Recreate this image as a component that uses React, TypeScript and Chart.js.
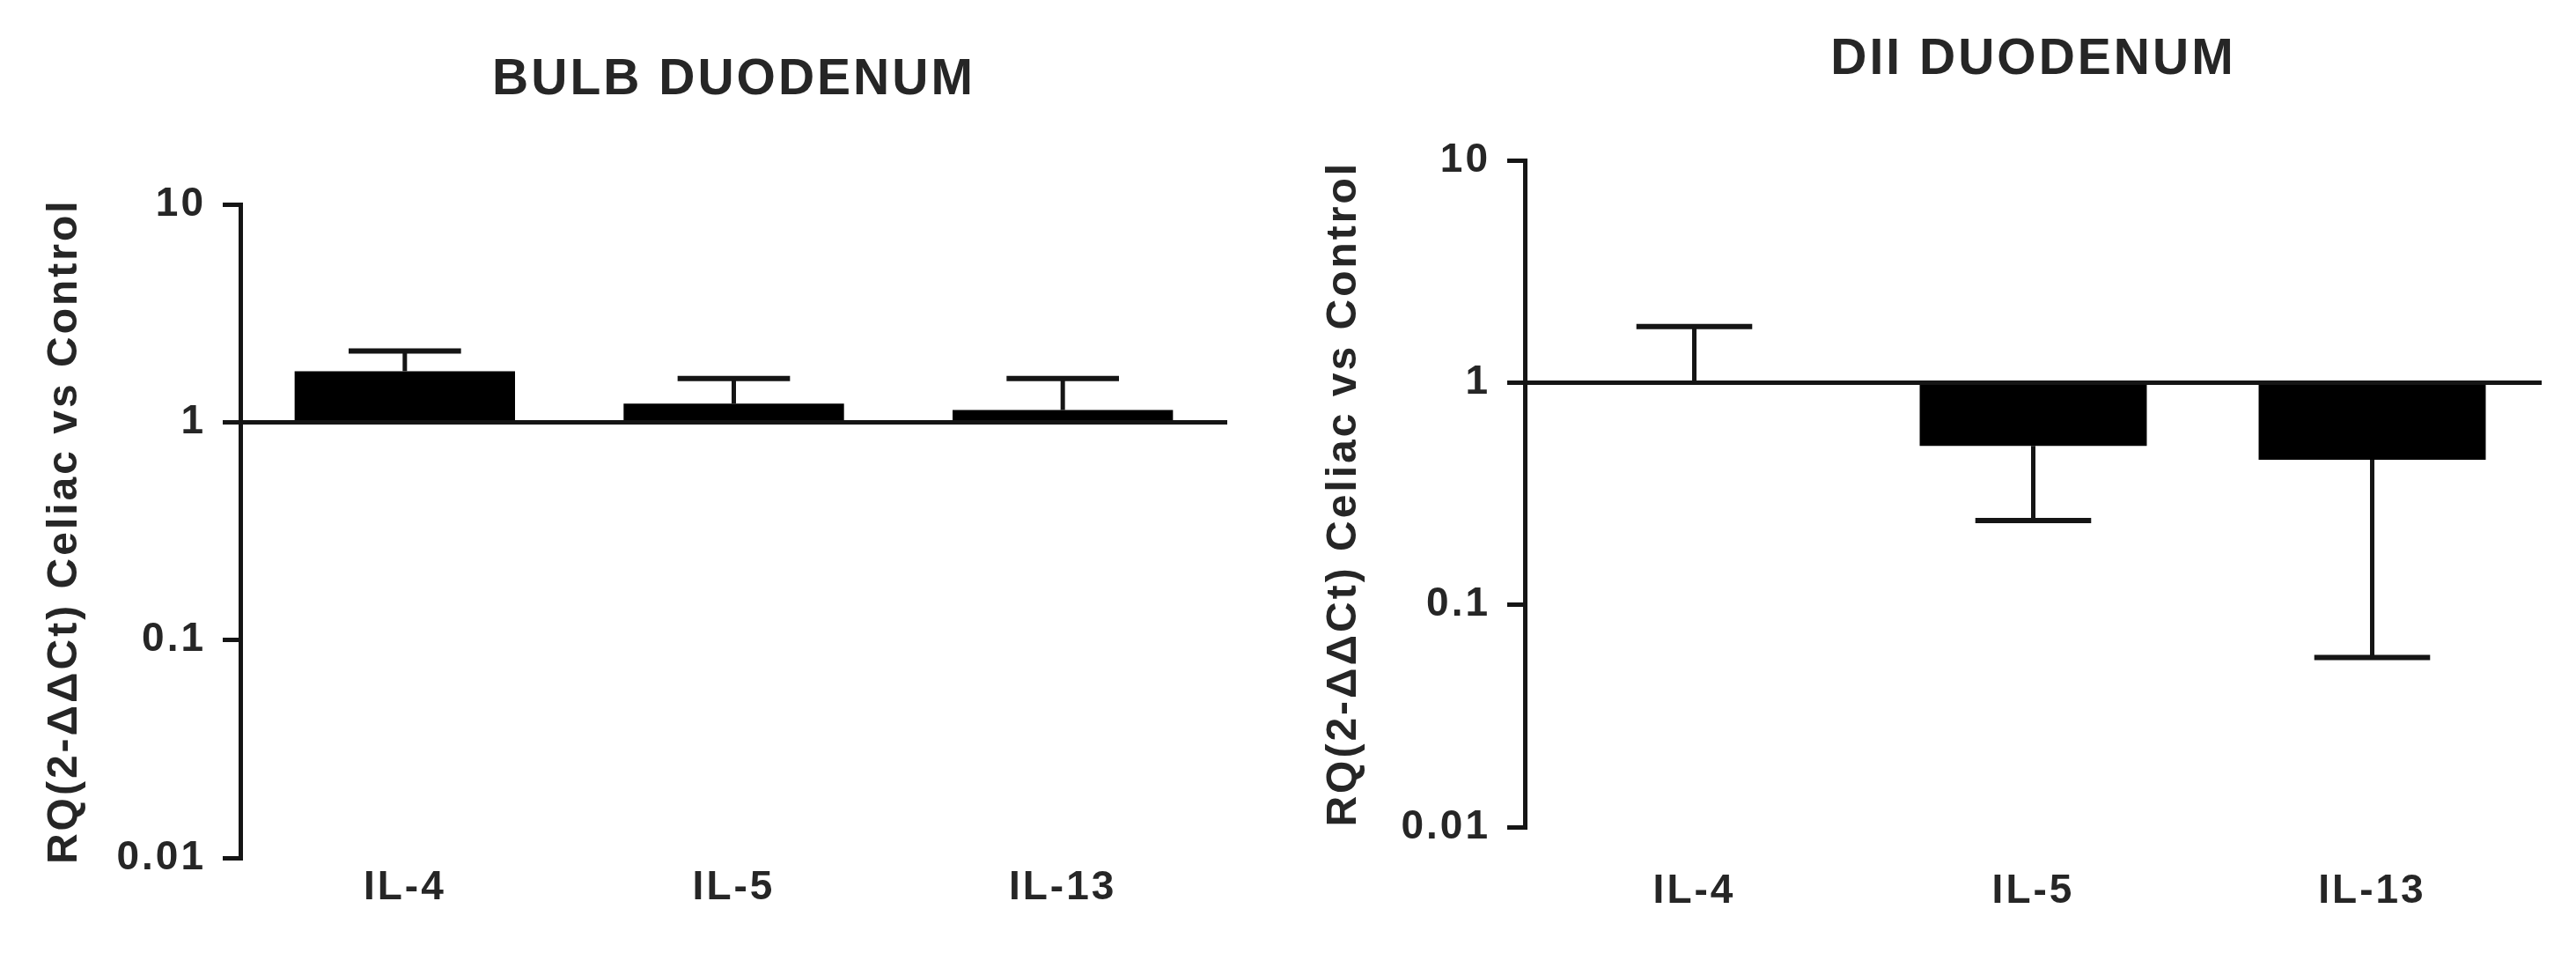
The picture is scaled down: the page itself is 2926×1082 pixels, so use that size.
import React, { useEffect, useRef } from "react";
import { Chart, registerables } from "chart.js";

Chart.register(...registerables);

// ---- data ----
const categories = ["IL-4", "IL-5", "IL-13"];
const bulbMeans = [1.72, 1.22, 1.14];
const bulbErrorEnds = [2.13, 1.59, 1.59];
const diiMeans = [1.0, 0.52, 0.45];
const diiErrorEnds = [1.79, 0.24, 0.058];
const yTickValues = [0.01, 0.1, 1, 10];
const yTickLabels = ["0.01", "0.1", "1", "10"];
const baseline = 1;
const bulbTitle = "BULB DUODENUM";
const diiTitle = "DII DUODENUM";
const yAxisTitle = "RQ(2-ΔΔCt) Celiac vs Control";

const FONT = "'Liberation Sans', Arial, sans-serif";
const TEXT = "#262626";
const LINE = "#151515";

const spacingPlugin = {
  id: "spacing",
  beforeUpdate(chart: any) {
    chart.ctx.letterSpacing = "3px";
  },
  beforeDraw(chart: any) {
    chart.ctx.letterSpacing = "3px";
  },
};

const errorBarPlugin = {
  id: "errorBars",
  afterDatasetsDraw(chart: any, _args: any, opts: any) {
    const { ctx, chartArea } = chart;
    const y = chart.scales.y;
    const meta = chart.getDatasetMeta(0);
    const means: number[] = opts.means;
    const ends: number[] = opts.ends;
    ctx.save();
    ctx.strokeStyle = LINE;
    ctx.lineCap = "butt";
    // baseline at 1
    const by = y.getPixelForValue(baseline);
    ctx.lineWidth = 5;
    ctx.beginPath();
    ctx.moveTo(chartArea.left, by);
    ctx.lineTo(chartArea.right, by);
    ctx.stroke();
    meta.data.forEach((el: any, i: number) => {
      const { x, width } = el.getProps(["x", "width"], true);
      const y0 = y.getPixelForValue(means[i]);
      const y1 = y.getPixelForValue(ends[i]);
      ctx.lineWidth = 5;
      ctx.beginPath();
      ctx.moveTo(x, y0);
      ctx.lineTo(x, y1);
      ctx.stroke();
      const cap = width * 0.51;
      ctx.lineWidth = 6;
      ctx.beginPath();
      ctx.moveTo(x - cap / 2, y1);
      ctx.lineTo(x + cap / 2, y1);
      ctx.stroke();
    });
    ctx.restore();
  },
};

type Layout = {
  titlePadTop: number;
  titlePadBottom: number;
  padRight: number;
  yAxisWidth: number;
  xAxisHeight: number;
  xTickPadding: number;
  yTitlePad: number;
};

function makeConfig(title: string, means: number[], ends: number[], L: Layout): any {
  return {
    type: "bar",
    data: {
      labels: categories,
      datasets: [
        {
          data: means.map((v) => [baseline, v]),
          backgroundColor: "#000000",
          borderWidth: 0,
          barPercentage: 0.67,
          categoryPercentage: 1,
        },
      ],
    },
    options: {
      responsive: false,
      devicePixelRatio: 1,
      animation: false,
      layout: { padding: { left: 0, right: L.padRight, top: 0, bottom: 0 } },
      plugins: {
        legend: { display: false },
        tooltip: { enabled: false },
        title: {
          display: true,
          text: title,
          fullSize: false,
          color: TEXT,
          font: { family: FONT, size: 57, weight: "bold", lineHeight: 1.2 },
          padding: { top: L.titlePadTop, bottom: L.titlePadBottom },
        },
        errorBars: { means, ends },
      },
      scales: {
        x: {
          type: "category",
          grid: { display: false, drawTicks: false },
          border: { display: false },
          ticks: {
            color: TEXT,
            font: { family: FONT, size: 46, weight: "bold", lineHeight: 1.2 },
            padding: L.xTickPadding,
            maxRotation: 0,
            autoSkip: false,
          },
          afterFit: (s: any) => {
            s.height = L.xAxisHeight;
          },
        },
        y: {
          type: "logarithmic",
          min: yTickValues[0],
          max: yTickValues[yTickValues.length - 1],
          afterBuildTicks: (s: any) => {
            s.ticks = yTickValues.map((value) => ({ value }));
          },
          ticks: {
            color: TEXT,
            font: { family: FONT, size: 46, weight: "bold", lineHeight: 1.2 },
            padding: 19,
            callback: (v: any) => {
              const i = yTickValues.indexOf(Number(v));
              return i >= 0 ? yTickLabels[i] : "";
            },
          },
          grid: {
            drawOnChartArea: false,
            drawTicks: true,
            tickLength: 20,
            lineWidth: 5,
            color: LINE,
          },
          border: { display: true, color: LINE, width: 5 },
          title: {
            display: true,
            text: yAxisTitle,
            color: TEXT,
            font: { family: FONT, size: 48, weight: "bold", lineHeight: 1.2 },
            padding: { top: L.yTitlePad, bottom: 0 },
          },
          afterFit: (s: any) => {
            s.width = L.yAxisWidth;
          },
        },
      },
    },
    plugins: [spacingPlugin, errorBarPlugin],
  };
}

function Panel(props: { left: number; width: number; title: string; means: number[]; ends: number[]; L: Layout }) {
  const ref = useRef<HTMLCanvasElement>(null);
  useEffect(() => {
    if (!ref.current) return;
    const chart = new Chart(ref.current, makeConfig(props.title, props.means, props.ends, props.L));
    return () => chart.destroy();
  }, []);
  return (
    <canvas
      ref={ref}
      width={props.width}
      height={1082}
      style={{ position: "absolute", left: props.left, top: 0, width: props.width, height: 1082 }}
    />
  );
}

export default function App() {
  return (
    <div style={{ position: "absolute", left: 0, top: 0, width: 2926, height: 1082, background: "#ffffff" }}>
      <Panel
        left={0}
        width={1460}
        title={bulbTitle}
        means={bulbMeans}
        ends={bulbErrorEnds}
        L={{
          titlePadTop: 57,
          titlePadBottom: 107,
          padRight: 66,
          yAxisWidth: 273,
          xAxisHeight: 108,
          xTickPadding: 7,
          yTitlePad: 45,
        }}
      />
      <Panel
        left={1460}
        width={1466}
        title={diiTitle}
        means={diiMeans}
        ends={diiErrorEnds}
        L={{
          titlePadTop: 34,
          titlePadBottom: 80,
          padRight: 39,
          yAxisWidth: 272,
          xAxisHeight: 143,
          xTickPadding: 46,
          yTitlePad: 38,
        }}
      />
    </div>
  );
}
